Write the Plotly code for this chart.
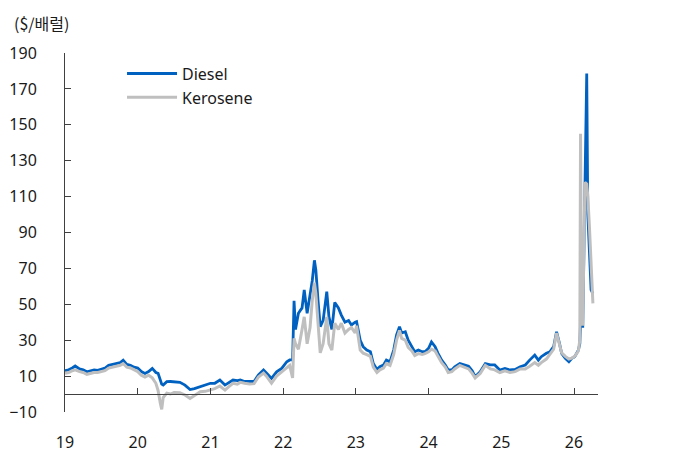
import plotly.graph_objects as go

# decimal year (yy.fraction)
x_year = [
    19.00, 19.05, 19.10, 19.14, 19.20, 19.25, 19.30, 19.35, 19.40, 19.45,
    19.50, 19.55, 19.60, 19.65, 19.70, 19.76, 19.80, 19.85, 19.90, 19.95,
    20.00, 20.05, 20.10, 20.15, 20.20, 20.25, 20.28, 20.31, 20.33, 20.35,
    20.40, 20.45, 20.50, 20.58, 20.65, 20.72, 20.78, 20.86, 20.93, 21.00,
    21.06, 21.13, 21.20, 21.25, 21.31, 21.37, 21.41, 21.47, 21.54, 21.60,
    21.66, 21.73, 21.77, 21.84, 21.91, 21.98, 22.05, 22.09, 22.13, 22.15,
    22.17, 22.21, 22.26, 22.29, 22.33, 22.37, 22.40, 22.43, 22.45, 22.48,
    22.51, 22.55, 22.60, 22.63, 22.67, 22.71, 22.76, 22.80, 22.85, 22.90,
    22.94, 22.99, 23.01, 23.06, 23.10, 23.15, 23.20, 23.24, 23.29, 23.33,
    23.38, 23.42, 23.47, 23.52, 23.56, 23.60, 23.63, 23.68, 23.72, 23.77,
    23.81, 23.86, 23.91, 23.95, 24.00, 24.04, 24.09, 24.13, 24.18, 24.23,
    24.27, 24.32, 24.36, 24.43, 24.48, 24.55, 24.60, 24.64, 24.71, 24.78,
    24.85, 24.91, 24.98, 25.05, 25.12, 25.19, 25.26, 25.33, 25.39, 25.46,
    25.51, 25.55, 25.62, 25.67, 25.72, 25.76, 25.80, 25.83, 25.88, 25.93,
    25.97, 26.01, 26.06, 26.08, 26.09, 26.10, 26.12, 26.15, 26.175, 26.19,
    26.21, 26.235, 26.26,
]

diesel = [
    13.0, 13.5, 14.5, 15.6, 14.0, 13.5, 12.4, 13.0, 13.5, 13.2,
    14.0, 14.5, 16.0, 16.5, 17.0, 17.5, 18.8, 16.5, 16.0, 15.0,
    14.5, 12.5, 11.5, 12.5, 14.3, 12.0, 11.5, 7.0, 5.5, 5.0,
    6.9, 7.0, 6.8, 6.5, 5.0, 2.5, 3.0, 4.0, 5.0, 6.0,
    6.0, 7.8, 5.0, 6.5, 7.8, 7.5, 7.8, 7.0, 6.9, 7.0,
    10.6, 13.4, 11.7, 8.7, 12.4, 14.3, 18.0, 19.0, 19.0, 52.0,
    36.0, 45.0, 48.0, 58.0, 45.0, 54.0, 63.0, 74.5, 69.0, 52.0,
    37.5, 41.0, 57.0, 43.0, 36.0, 51.0, 48.0, 44.0, 40.0, 41.0,
    38.5, 40.0, 40.3, 30.0, 26.4, 24.5, 23.6, 17.0, 13.7, 15.2,
    16.2, 18.9, 18.0, 24.5, 33.0, 37.5, 34.0, 34.7, 30.0, 26.4,
    23.6, 24.5, 23.6, 23.6, 25.5, 29.0, 26.4, 22.7, 18.9, 16.2,
    13.4, 13.4, 15.2, 17.0, 16.2, 15.5, 13.0, 9.7, 12.4, 17.0,
    16.2, 16.2, 13.4, 14.3, 13.4, 13.7, 15.2, 16.2, 18.9, 21.7,
    18.9, 20.8, 22.7, 23.6, 26.4, 34.7, 28.2, 22.7, 19.9, 18.0,
    19.9, 20.8, 24.5, 28.0, 40.0, 70.0, 37.0, 123.0, 178.6, 100.0,
    80.0, 58.0, 56.0,
]

kerosene = [
    11.5, 12.0, 13.0, 13.5, 12.5, 12.0, 11.0, 11.5, 12.0, 12.0,
    12.5, 13.0, 14.5, 15.0, 15.5, 16.0, 17.0, 15.0, 14.5, 13.5,
    12.5, 10.5, 9.5, 10.5, 9.0, 6.0, 2.0, -5.0, -8.5, -2.0,
    0.5, 0.0, 0.8, 0.7, -0.5, -2.5, -1.0, 1.3, 1.5, 2.2,
    3.0, 4.5, 2.2, 4.0, 6.0, 5.5, 6.5, 6.0, 5.6, 5.8,
    9.5, 11.7, 10.0, 6.0, 10.0, 12.4, 15.0, 16.0, 9.0, 31.0,
    28.0, 25.0, 36.0, 43.0, 28.0, 37.0, 52.0, 62.0, 56.0, 37.0,
    23.0, 28.0, 43.0, 28.0, 24.5, 39.5, 36.0, 39.5, 34.0, 36.0,
    37.0, 34.0, 38.0, 24.5, 22.8, 22.0, 21.0, 15.0, 12.0, 13.5,
    14.5, 17.0, 16.0, 22.0, 30.0, 35.5, 31.0, 30.0, 26.0, 24.0,
    21.5, 22.5, 22.0, 22.5, 23.5, 25.0, 24.0, 21.0, 17.5, 15.0,
    12.0, 12.5, 14.0, 16.0, 15.0, 14.0, 11.5, 9.0, 11.5, 16.0,
    14.0, 13.5, 12.0, 13.0, 12.0, 12.5, 14.0, 14.0, 15.5, 17.5,
    16.0, 17.5, 19.5, 22.0, 25.0, 34.0, 28.0, 23.0, 21.0, 19.5,
    20.0, 21.0, 24.0, 30.0, 145.0, 75.0, 38.0, 118.0, 117.0, 110.0,
    95.0, 70.0, 50.5,
]

year_ticks = [19, 20, 21, 22, 23, 24, 25, 26]
year_labels = ["19", "20", "21", "22", "23", "24", "25", "26"]
y_ticks = [-10, 10, 30, 50, 70, 90, 110, 130, 150, 170, 190]

FONT = "Noto Sans, Noto Sans CJK KR, sans-serif"
AXIS_COLOR = "#404040"

fig = go.Figure()
fig.add_trace(go.Scatter(x=x_year, y=diesel, mode="lines", name="Diesel",
                         line=dict(color="#0061C1", width=2.8)))
fig.add_trace(go.Scatter(x=x_year, y=kerosene, mode="lines", name="Kerosene",
                         line=dict(color="#BFBFBF", width=3)))

fig.update_layout(
    width=674, height=461,
    margin=dict(l=57, r=84, t=45, b=57, autoexpand=False),
    paper_bgcolor="white", plot_bgcolor="white",
    font=dict(family=FONT, size=16, color="#1a1a1a"),
    showlegend=True,
    legend=dict(x=0.107, y=0.99, xanchor="left", yanchor="top",
                bgcolor="rgba(0,0,0,0)", font=dict(size=16),
                itemwidth=50, tracegroupgap=0),
    xaxis=dict(range=[19, 26.33], tickvals=year_ticks, ticktext=year_labels,
               showgrid=False, zeroline=False, automargin=False,
               showline=True, linecolor=AXIS_COLOR, linewidth=1,
               ticks="inside", ticklen=6, tickcolor=AXIS_COLOR,
               anchor="free", position=0.05,
               ticklabelstandoff=34),
    yaxis=dict(range=[-10, 190], tickvals=y_ticks,
               showgrid=False, zeroline=False, automargin=False,
               showline=True, linecolor=AXIS_COLOR, linewidth=1,
               ticks="inside", ticklen=6, tickcolor=AXIS_COLOR,
               ticklabelstandoff=24),
    annotations=[dict(text="($/배럴)", xref="paper", yref="paper",
                      x=-0.1, y=1.045, xanchor="left", yanchor="bottom",
                      showarrow=False,
                      font=dict(family="Noto Sans CJK KR", size=16))],
)

fig.write_html("out.html")
